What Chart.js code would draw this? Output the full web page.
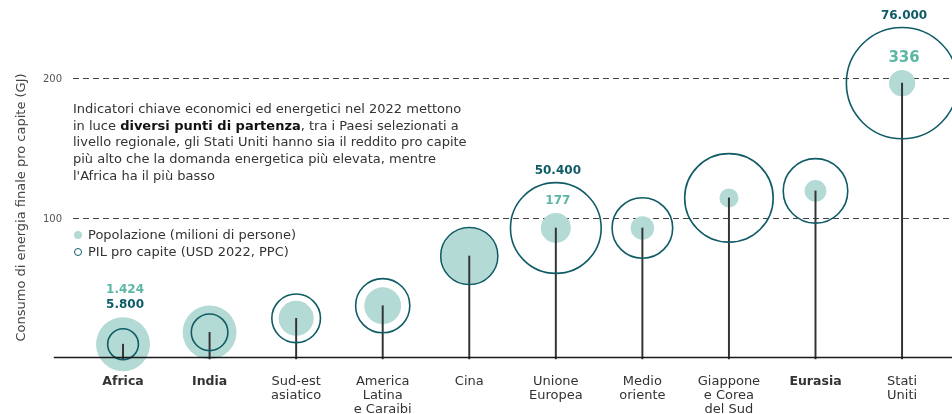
<!DOCTYPE html>
<html>
<head>
<meta charset="utf-8">
<script src="https://cdn.jsdelivr.net/npm/chart.js@4"></script>
<style>
  body { margin: 0; background: #fff; }
  #wrap { position: relative; width: 952px; height: 414px; }
  #note { position: absolute; left: 73px; top: 101px; font: 13px/16.7px "DejaVu Sans"; color: #333; }
  #note b { color: #111; }
  .leg { position: absolute; left: 74px; font: 13px "DejaVu Sans"; color: #333; white-space: nowrap; }
  .leg i { display: inline-block; width: 8px; height: 8px; border-radius: 50%; margin-right: 6px; box-sizing: border-box; }
</style>
</head>
<body>
<div id="wrap">
  <canvas id="energyChart" width="952" height="414"></canvas>
  <div id="note">Indicatori chiave economici ed energetici nel 2022 mettono<br>in luce <b>diversi punti di partenza</b>, tra i Paesi selezionati a<br>livello regionale, gli Stati Uniti hanno sia il reddito pro capite<br>più alto che la domanda energetica più elevata, mentre<br>l'Africa ha il più basso</div>
  <div class="leg" style="top:227px"><i style="background:#b3dad5"></i>Popolazione (milioni di persone)</div>
  <div class="leg" style="top:244px"><i style="border:1.6px solid #0f5c66"></i>PIL pro capite (USD 2022, PPC)</div>
</div>
<script>
// regions, left to right
const categories = [
    ['Africa'], ['India'], ['Sud-est', 'asiatico'], ['America', 'Latina', 'e Caraibi'], ['Cina'],
    ['Unione', 'Europea'], ['Medio', 'oriente'], ['Giappone', 'e Corea', 'del Sud'], ['Eurasia'], ['Stati', 'Uniti']
];
const boldCategories = ['Africa', 'India', 'Eurasia'];

// final energy consumption per capita (GJ)
const energyPerCapita = [10.5, 19, 29, 38, 73.5, 93.5, 93.5, 115, 120, 197];
// population (million people)
const population = [1424, 1417, 600, 665, 1500, 440, 270, 177, 230, 336];
// GDP per capita (USD 2022, PPP)
const gdpPerCapita = [5800, 8200, 14500, 18000, 20000, 50400, 22500, 48000, 25500, 76000];

// printed value labels
const populationLabels = ['1.424', '', '', '', '', '177', '', '', '', '336'];
const gdpLabels = ['5.800', '', '', '', '', '50.400', '', '', '', '76.000'];

const yTicks = [100, 200];

const FONT = 'DejaVu Sans';
const DARK = '#0f5c66';
const LIGHT = '#b3dad5';
const LIGHT_TEXT = '#5bb6a6';

// bubble areas proportional to the values
const popRadius = v => 0.715 * Math.sqrt(v);
const gdpRadius = v => 0.202 * Math.sqrt(v);

const labelPlugin = {
    id: 'labelPlugin',
    afterDatasetsDraw(chart) {
        const { ctx, chartArea, scales: { x, y } } = chart;
        ctx.save();
        // baseline
        ctx.strokeStyle = '#1a1a1a';
        ctx.lineWidth = 1.5;
        ctx.beginPath();
        ctx.moveTo(x.getPixelForValue(-0.8), chartArea.bottom);
        ctx.lineTo(chartArea.right, chartArea.bottom);
        ctx.stroke();

        ctx.textAlign = 'center';
        ctx.textBaseline = 'middle';
        energyPerCapita.forEach((v, i) => {
            const cx = x.getPixelForValue(i) + 2;
            const cy = y.getPixelForValue(v);
            const rp = popRadius(population[i]);
            const rg = gdpRadius(gdpPerCapita[i]);
            const gdpY = cy - Math.max(rp, rg) - 12;
            const popY = rp > rg ? gdpY - 15 : cy - rp - 12;
            if (gdpLabels[i]) {
                ctx.fillStyle = DARK;
                ctx.font = 'bold 12px "' + FONT + '"';
                ctx.fillText(gdpLabels[i], cx, gdpY);
            }
            if (populationLabels[i]) {
                ctx.fillStyle = LIGHT_TEXT;
                ctx.font = 'bold ' + (i === 9 ? 15 : 12) + 'px "' + FONT + '"';
                ctx.fillText(populationLabels[i], cx, popY);
            }
        });
        ctx.restore();
    }
};

new Chart(document.getElementById('energyChart').getContext('2d'), {
    type: 'bubble',
    data: {
        datasets: [
            {
                label: 'Popolazione (milioni di persone)',
                data: energyPerCapita.map((v, i) => ({ x: i, y: v, r: popRadius(population[i]) })),
                backgroundColor: LIGHT,
                borderWidth: 0,
                clip: false,
                order: 3
            },
            {
                type: 'bar',
                label: 'stem',
                data: energyPerCapita.map((v, i) => ({ x: i, y: v })),
                backgroundColor: '#333',
                barThickness: 1.3,
                clip: false,
                order: 2
            },
            {
                label: 'PIL pro capite (USD 2022, PPC)',
                data: energyPerCapita.map((v, i) => ({ x: i, y: v, r: gdpRadius(gdpPerCapita[i]) })),
                backgroundColor: 'rgba(0,0,0,0)',
                borderColor: DARK,
                borderWidth: 1.6,
                clip: false,
                order: 1
            }
        ]
    },
    options: {
        responsive: false,
        animation: false,
        events: [],
        layout: { autoPadding: false, padding: { top: 57.5, left: 0, right: 0, bottom: 0 } },
        plugins: { legend: { display: false }, tooltip: { enabled: false } },
        scales: {
            x: {
                type: 'linear',
                min: -0.578,
                max: 9.577,
                offset: false,
                afterBuildTicks: s => { s.ticks = categories.map((c, i) => ({ value: i })); },
                afterFit: s => { s.height = 56.5; s.paddingLeft = 0; s.paddingRight = 0; },
                grid: { display: false, drawTicks: false },
                border: { display: false },
                ticks: {
                    autoSkip: false,
                    maxRotation: 0,
                    padding: 17,
                    color: '#333',
                    font: c => {
                        const name = categories[c.index] ? categories[c.index][0] : '';
                        const bold = boldCategories.includes(name);
                        return { family: FONT, size: bold ? 12.5 : 13, weight: bold ? 'bold' : 'normal', lineHeight: 1.08 };
                    },
                    callback: v => categories[v]
                }
            },
            y: {
                min: 1,
                max: 215.3,
                afterBuildTicks: s => { s.ticks = yTicks.map(v => ({ value: v })); },
                afterFit: s => { s.width = 73; },
                grid: { color: '#444', lineWidth: 1, drawTicks: false },
                border: { display: false, dash: [6, 4] },
                ticks: { color: '#555', padding: 11, font: { family: FONT, size: 10 } },
                title: {
                    display: true,
                    text: 'Consumo di energia finale pro capite (GJ)',
                    color: '#444',
                    font: { family: FONT, size: 13 },
                    padding: { top: 14, bottom: 0 }
                }
            }
        }
    },
    plugins: [labelPlugin]
});
</script>
</body>
</html>
